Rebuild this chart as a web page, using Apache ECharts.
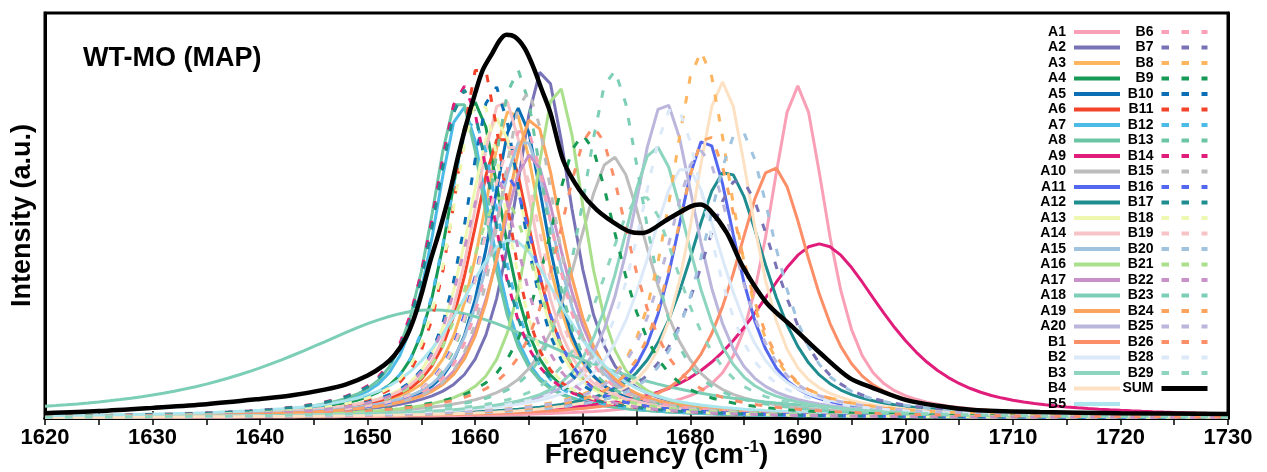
<!DOCTYPE html>
<html><head><meta charset="utf-8">
<script src="https://cdn.jsdelivr.net/npm/echarts@6/dist/echarts.min.js"></script>
<style>html,body{margin:0;padding:0;background:#fff}#chart{width:1267px;height:472px}</style>
</head><body><div id="chart"></div>
<script>
// ---- data ----
const bandNames = ['A1','A2','A3','A4','A5','A6','A7','A8','A9','A10','A11','A12','A13','A14','A15','A16','A17','A18','A19','A20',
  'B1','B2','B3','B4','B5','B6','B7','B8','B9','B10','B11','B12','B13','B14','B15','B16','B17','B18','B19','B20','B21','B22','B23','B24','B25','B26','B28','B29'];
// peak position (cm-1)
const bandCenters = [1690.0,1666.3,1663.4,1660.0,1664.0,1662.5,1658.8,1658.5,1692.0,1672.8,1681.4,1683.4,1662.0,1662.6,1664.5,1667.7,1665.1,1656.0,1665.3,1677.6,
  1687.7,1679.5,1676.8,1683.0,1663.3,1664.5,1684.5,1681.0,1670.0,1661.8,1660.5,1659.8,1663.9,1658.9,1664.8,1663.0,1659.0,1660.4,1663.5,1684.6,1662.5,1661.5,1672.8,1681.6,1681.0,1671.0,1678.5,1675.5];
// peak height (a.u., frame height = 1)
const bandHeights = [0.82,0.86,0.765,0.78,0.765,0.70,0.77,0.79,0.43,0.645,0.69,0.61,0.74,0.79,0.69,0.82,0.65,0.267,0.74,0.78,
  0.62,0.62,0.67,0.83,0.44,0.72,0.59,0.905,0.70,0.82,0.88,0.74,0.86,0.82,0.81,0.60,0.81,0.79,0.68,0.71,0.55,0.62,0.86,0.70,0.66,0.72,0.77,0.55];
// full width at half maximum (cm-1)
const bandWidths = [6.5,6.5,7,6.5,6.5,7,6.5,6.5,14.5,8.5,7,9,7,7,7.5,6,7.5,30,7,7.5,
  8.5,9,8,6.8,12,7,9,7,8,6.5,6,6.5,6.5,7,6.5,7,7,6.5,7,8,8,7,7,7.5,8,8,8,9];
const sumFreq = [1620,1625,1630,1635,1640,1643,1646,1648,1650,1651.5,1652.5,1653.5,1654.3,1655.0,1655.8,1656.7,1657.7,1658.4,1659.2,1660.0,1660.7,1661.6,1662.3,1662.9,1663.7,1664.6,1665.4,1666.2,1667.0,1668.2,1669.7,1671.3,1673.5,1674.7,1675.6,1677.8,1680.0,1680.9,1681.8,1683.4,1684.9,1687.1,1689.5,1692.1,1694.8,1697.0,1700.1,1703.0,1706.3,1712.5,1720,1730];
const sumIntensity = [0.012,0.017,0.025,0.034,0.047,0.056,0.070,0.083,0.105,0.130,0.155,0.195,0.245,0.305,0.385,0.464,0.563,0.645,0.728,0.802,0.859,0.901,0.933,0.946,0.941,0.913,0.867,0.81,0.753,0.635,0.563,0.514,0.472,0.458,0.457,0.489,0.522,0.527,0.514,0.457,0.373,0.284,0.225,0.16,0.099,0.074,0.044,0.030,0.020,0.015,0.012,0.010];
const xTicks = [1620,1630,1640,1650,1660,1670,1680,1690,1700,1710,1720,1730];

// ---- styles ----
const baseColors = ['#f9a0b7','#7873b6','#fdb55f','#179a56','#0a6fb5','#f4432b','#4cbbe8','#6cc5a4','#e01d7a','#bdbdbd',
  '#5468ef','#1f8c90','#eef8b0','#f6c4c6','#a0c3df','#aadf8c','#c891c8','#7ccfb6','#fca45e','#bbb6dc',
  '#fc8e68','#dbe9f8','#8ed5bf','#fde1c3','#abe5ed'];
const dashColors = baseColors.slice(0,20).concat([baseColors[20], baseColors[21], baseColors[22]]);
const FONT = '"Liberation Sans", Arial, Helvetica, sans-serif';
const ETA = 0.7;

function bandColor(i){ return i < 25 ? baseColors[i] : dashColors[i-25]; }
function profile(f, c, h, w){
  const u = (f - c) / (w / 2);
  return h * (ETA / (1 + u*u) + (1 - ETA) * Math.exp(-Math.LN2 * u*u));
}
const grid1 = [];
for (let f = 1620; f <= 1730; f++) grid1.push(f);

const series = bandNames.map((name, i) => {
  const dashed = i >= 25;
  return {
    name, type: 'line', symbol: 'none', showSymbol: false, smooth: false, silent: true,
    data: grid1.map(f => [f, profile(f, bandCenters[i], bandHeights[i], bandWidths[i])]),
    lineStyle: { color: bandColor(i), width: 3, type: dashed ? [7.5, 12.5] : 'solid' },
    itemStyle: { color: bandColor(i) }
  };
});
series.push({
  name: 'SUM', type: 'line', symbol: 'none', showSymbol: false, smooth: 0.3, silent: true,
  data: sumFreq.map((f, i) => [f, sumIntensity[i]]),
  lineStyle: { color: '#000', width: 4.5 }, itemStyle: { color: '#000' }, z: 5
});

const legendCommon = {
  orient: 'vertical', align: 'right', top: 25, padding: 0,
  itemWidth: 46, itemHeight: 14, itemGap: 1.5, selectedMode: false,
  itemStyle: { opacity: 0 },
  lineStyle: { width: 4 },
  textStyle: { fontSize: 14, fontWeight: 'bold', color: '#000', fontFamily: FONT, padding: [0, 3, 0, 0] }
};
const axisCommon = {
  type: 'value', min: 1620, max: 1730, interval: 10,
  axisLine: { show: true, lineStyle: { color: '#000', width: 3 } },
  axisTick: { show: true, inside: true, length: 7, lineStyle: { color: '#000', width: 1.5 } },
  minorTick: { show: true, splitNumber: 2, length: 7, lineStyle: { color: '#000', width: 1.5 } },
  splitLine: { show: false }, minorSplitLine: { show: false }
};

const chart = echarts.init(document.getElementById('chart'), null, { renderer: 'canvas' });
chart.setOption({
  animation: false,
  backgroundColor: '#fff',
  title: { text: 'WT-MO (MAP)', left: 83, top: 45, padding: 0,
    textStyle: { fontSize: 27, fontWeight: 'bold', color: '#000', fontFamily: FONT } },
  legend: [
    Object.assign({}, legendCommon, { right: 145, data: bandNames.slice(0, 25) }),
    Object.assign({}, legendCommon, { right: 57, data: bandNames.slice(25).map(n => n).concat([{ name: 'SUM', lineStyle: { width: 5 } }]) })
  ],
  grid: { left: 45, right: 39, top: 13, bottom: 54, show: true, borderColor: '#000', borderWidth: 3,
    containLabel: false, outerBoundsMode: 'none' },
  xAxis: [
    Object.assign({}, axisCommon, {
      position: 'bottom',
      axisLabel: { show: true, fontSize: 22, fontWeight: 'bold', color: '#000', fontFamily: FONT, margin: 9,
        showMinLabel: true, showMaxLabel: true,
        formatter: v => (xTicks.indexOf(v) >= 0 ? String(v) : '') },
      name: 'Frequency (cm{sup|-1})', nameLocation: 'middle', nameGap: 21, nameMoveOverlap: false,
      nameTextStyle: { fontSize: 28, fontWeight: 'bold', color: '#000', fontFamily: FONT, lineHeight: 32,
        padding: [0, 0, 0, 40],
        rich: { sup: { fontSize: 17, fontWeight: 'bold', color: '#000', fontFamily: FONT, verticalAlign: 'top', lineHeight: 32 } } }
    }),
    Object.assign({}, axisCommon, { position: 'top', axisLabel: { show: false } })
  ],
  yAxis: [
    { type: 'value', min: 0, max: 1, position: 'left',
      axisLine: { show: true, lineStyle: { color: '#000', width: 3 } },
      axisTick: { show: false }, axisLabel: { show: false }, splitLine: { show: false },
      name: 'Intensity (a.u.)', nameLocation: 'middle', nameGap: 9, nameMoveOverlap: false,
      nameTextStyle: { fontSize: 27, fontWeight: 'bold', color: '#000', fontFamily: FONT } },
    { type: 'value', min: 0, max: 1, position: 'right',
      axisLine: { show: true, lineStyle: { color: '#000', width: 3 } },
      axisTick: { show: false }, axisLabel: { show: false }, splitLine: { show: false } }
  ],
  series
});
</script></body></html>
